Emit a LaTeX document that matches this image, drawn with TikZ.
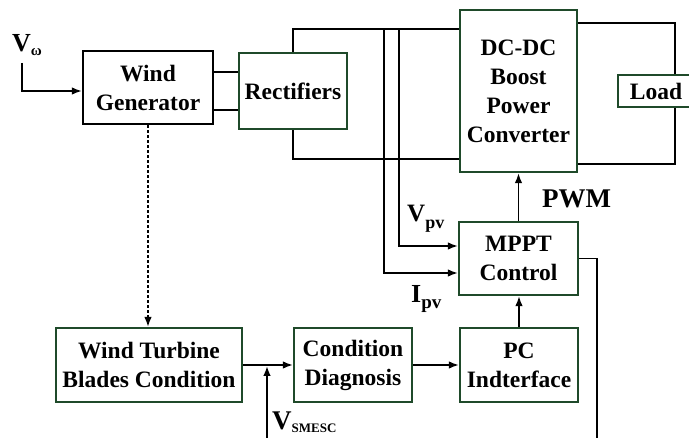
\documentclass[tikz,border=0pt]{standalone}
\usepackage{fontspec}
\setmainfont{Liberation Serif}
\usetikzlibrary{arrows.meta}
\definecolor{bgreen}{HTML}{1F4A2A}
\newcommand{\fsz}[2]{\fontsize{#1}{#2}\selectfont}
\begin{document}
\begin{tikzpicture}[x=1pt,y=-1pt,
  every node/.style={font=\bfseries\fsz{23.5}{29}},
  box/.style={draw=bgreen, line width=2.1pt, align=center, inner sep=0pt},
  wire/.style={line width=1.8pt},
  arr/.style={wire,-{Latex[length=10pt,width=7.5pt]}},
  dots/.style={line width=1.6pt, dash pattern=on 3pt off 2pt},
  lab/.style={inner sep=0pt, anchor=base west},
]
\useasboundingbox (0,0) rectangle (689,438);
\clip (0,0) rectangle (689,438);

% blocks
\node[box, draw=black, minimum width=130pt, minimum height=73pt] (wg) at (148,87.5) {Wind\\Generator};
\node[box, minimum width=108pt, minimum height=76pt] (rect) at (293,91) {Rectifiers};
\node[box, minimum width=117pt, minimum height=162pt] (dc) at (518.5,91) {DC-DC\\Boost\\Power\\Converter};
\node[box, minimum width=80pt, minimum height=32pt] (load) at (658,91) {\hspace*{-2pt}Load\hspace*{2pt}};
\node[box, minimum width=119pt, minimum height=73pt] (mppt) at (518.5,258.5) {MPPT\\Control};
\node[box, minimum width=118pt, minimum height=74pt] (pc) at (519,365) {PC\\Indterface};
\node[box, minimum width=118pt, minimum height=74pt] (cd) at (353,365) {Condition\\Diagnosis};
\node[box, minimum width=186pt, minimum height=74pt] (wt) at (149,365) {Wind Turbine\\Blades Condition};

% generator to rectifiers
\coordinate (r1) at ([yshift=19pt]rect.west);
\coordinate (r2) at ([yshift=-19pt]rect.west);
\draw[wire] (r1 -| wg.east) -- (r1);
\draw[wire] (r2 -| wg.east) -- (r2);

% rectifiers to DC-DC
\coordinate (rt) at (293,29);
\coordinate (rb) at (293,159);
\draw[wire] (rect.north) -- (rt) -- (rt -| dc.west);
\draw[wire] (rect.south) -- (rb) -- (rb -| dc.west);

% sensing lines to MPPT
\coordinate (ia) at (384,29);
\coordinate (ib) at (384,273);
\coordinate (va) at (399,29);
\coordinate (vb) at (399,246);
\draw[arr] (ia) -- (ib) -- (ib -| mppt.west);
\draw[arr] (va) -- (vb) -- (vb -| mppt.west);

% DC-DC to load
\coordinate (lt) at (675,23);
\coordinate (lb) at (675,164);
\draw[wire] (lt -| dc.east) -- (lt) -- (lt |- load.north);
\draw[wire] (lb -| dc.east) -- (lb) -- (lb |- load.south);

% control path
\draw[arr] (mppt.north) -- (dc.south);
\draw[arr] (pc.north) -- (pc.north |- mppt.south);
\coordinate (mr) at (597,440);
\draw[wire] (mppt.east) -| (mr);
\draw[arr] (cd.east) -- (pc.west);
\draw[arr] (wt.east) -- (cd.west);
\coordinate (vs) at (267,440);
\draw[arr] (vs) -- ([yshift=-0.9pt]vs |- wt.east);

% dotted link
\draw[dots, -{Latex[length=10pt,width=7.5pt]}] (wg.south) -- (wg.south |- wt.north);

% wind input
\coordinate (vw) at (22,63);
\coordinate (vwb) at (22,91);
\draw[arr] (vw) -- (vwb) -- (vwb -| wg.west);

% labels
\node[lab, font=\bfseries\fsz{26}{30}] (lvw) at (12,52) {V\raisebox{-4pt}{\fsz{15}{17}ω}};
\node[lab, font=\bfseries\fsz{25}{30}] (lvpv) at (407,222) {V\raisebox{-7pt}{\fsz{18}{20}pv}};
\node[lab, font=\bfseries\fsz{26}{30}] (lipv) at (411,303) {I\raisebox{-6pt}{\fsz{19}{20}pv}};
\node[lab, font=\bfseries\fsz{27}{30}] (lpwm) at (542,208) {PWM};
\node[lab, font=\bfseries\fsz{27}{30}] (lvs) at (272,430) {V\raisebox{-3pt}{\fsz{13}{15}SMESC}};
\end{tikzpicture}
\end{document}
